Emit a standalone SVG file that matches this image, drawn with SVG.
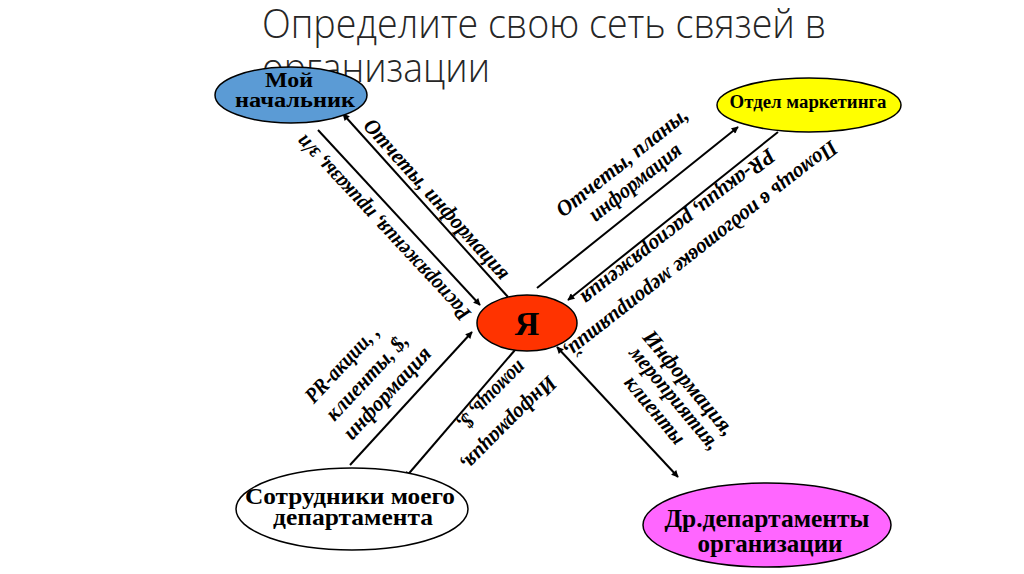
<svg xmlns="http://www.w3.org/2000/svg" width="1024" height="574" viewBox="0 0 1024 574">
<defs>
<marker id="ah" viewBox="0 0 10 10" refX="9" refY="5" markerWidth="9" markerHeight="7" markerUnits="userSpaceOnUse" orient="auto-start-reverse"><path d="M0,0 L10,5 L0,10 z" fill="#000"/></marker>
<style>
.title{font-family:"Open Sans","Liberation Sans",sans-serif;font-weight:300;font-size:41px;fill:#262626}
.node{stroke:#000;stroke-width:1.5}
.nt{font-family:"Liberation Serif","Times New Roman",serif;font-weight:bold;fill:#000;text-anchor:middle}
.lbl{font-family:"Liberation Serif","Times New Roman",serif;font-weight:bold;font-style:italic;font-size:22px;fill:#000;text-anchor:middle}
.cn line{stroke:#000;stroke-width:2;fill:none}
</style>
</defs>
<rect width="1024" height="574" fill="#fff"/>
<g id="title">
<text class="title" x="262" y="38" textLength="564" lengthAdjust="spacingAndGlyphs">Определите свою сеть связей в</text>
<text class="title" x="262" y="82" textLength="228" lengthAdjust="spacingAndGlyphs">организации</text>
</g>
<g id="connectors" class="cn">
<line x1="508" y1="297" x2="343" y2="114" marker-end="url(#ah)"/>
<line x1="318" y1="130" x2="480" y2="305" marker-end="url(#ah)"/>
<line x1="537" y1="288" x2="738" y2="127" marker-end="url(#ah)"/>
<line x1="778" y1="132" x2="568" y2="300" marker-end="url(#ah)"/>
<line x1="350" y1="465" x2="472" y2="332" marker-end="url(#ah)"/>
<line x1="515" y1="350" x2="405" y2="478" marker-end="url(#ah)"/>
<line x1="557" y1="347" x2="678" y2="477" marker-start="url(#ah)" marker-end="url(#ah)"/>
</g>
<g id="labels">
<text class="lbl" transform="translate(437,199) rotate(48)" y="7" textLength="208" lengthAdjust="spacingAndGlyphs">Отчеты, информация</text>
<text class="lbl" transform="translate(383,228) rotate(-133)" y="7" textLength="245" lengthAdjust="spacingAndGlyphs">Распоряжения, приказы, з/п</text>
<text class="lbl" transform="translate(622,162) rotate(-38.5)" y="7" textLength="162" lengthAdjust="spacingAndGlyphs">Отчеты, планы,</text>
<text class="lbl" transform="translate(635,182) rotate(-38.5)" y="7" textLength="112" lengthAdjust="spacingAndGlyphs">информация</text>
<text class="lbl" transform="translate(701,250) rotate(142)" y="7" textLength="340" lengthAdjust="spacingAndGlyphs">Помощь в подготовке мероприятий,</text>
<text class="lbl" transform="translate(678,227) rotate(142)" y="7" textLength="240" lengthAdjust="spacingAndGlyphs">PR-акции, распоряжения</text>
<text class="lbl" transform="translate(342,364) rotate(-47)" y="7" textLength="98" lengthAdjust="spacingAndGlyphs">PR-акции, ,</text>
<text class="lbl" transform="translate(367,377) rotate(-47)" y="7" textLength="110" lengthAdjust="spacingAndGlyphs">клиенты, $,</text>
<text class="lbl" transform="translate(387,393) rotate(-47)" y="7" textLength="118" lengthAdjust="spacingAndGlyphs">информация</text>
<text class="lbl" transform="translate(509,424) rotate(135)" y="7" textLength="125" lengthAdjust="spacingAndGlyphs">Информация,</text>
<text class="lbl" transform="translate(492,396) rotate(135)" y="7" textLength="88" lengthAdjust="spacingAndGlyphs">помощь, $,</text>
<text class="lbl" transform="translate(689,383) rotate(50)" y="7" textLength="130" lengthAdjust="spacingAndGlyphs">Информация,</text>
<text class="lbl" transform="translate(675,398) rotate(50)" y="7" textLength="128" lengthAdjust="spacingAndGlyphs">мероприятия,</text>
<text class="lbl" transform="translate(655,410) rotate(50)" y="7" textLength="82" lengthAdjust="spacingAndGlyphs">клиенты</text>
</g>
<g id="boss">
<ellipse class="node" cx="291" cy="95" rx="76" ry="28" fill="#5b9bd5"/>
<text class="nt" x="289" y="87" font-size="20" textLength="48" lengthAdjust="spacingAndGlyphs">Мой</text>
<text class="nt" x="295" y="107" font-size="20" textLength="120" lengthAdjust="spacingAndGlyphs">начальник</text>
</g>
<g id="marketing">
<ellipse class="node" cx="809" cy="105" rx="92" ry="27" fill="#ffff00"/>
<text class="nt" x="808" y="108" font-size="18" textLength="157" lengthAdjust="spacingAndGlyphs">Отдел маркетинга</text>
</g>
<g id="me">
<ellipse class="node" cx="527" cy="323" rx="50" ry="28" fill="#ff3300"/>
<text class="nt" x="527" y="335" font-size="34">Я</text>
</g>
<g id="employees">
<ellipse class="node" cx="352" cy="509" rx="116" ry="41" fill="#fff"/>
<text class="nt" x="350" y="504" font-size="23" textLength="210" lengthAdjust="spacingAndGlyphs">Сотрудники моего</text>
<text class="nt" x="353" y="525" font-size="23" textLength="160" lengthAdjust="spacingAndGlyphs">департамента</text>
</g>
<g id="otherdeps">
<ellipse class="node" cx="767" cy="525" rx="124" ry="42" fill="#ff66ff"/>
<text class="nt" x="767" y="527" font-size="25" textLength="205" lengthAdjust="spacingAndGlyphs">Др.департаменты</text>
<text class="nt" x="770" y="552" font-size="25" textLength="145" lengthAdjust="spacingAndGlyphs">организации</text>
</g>
</svg>
